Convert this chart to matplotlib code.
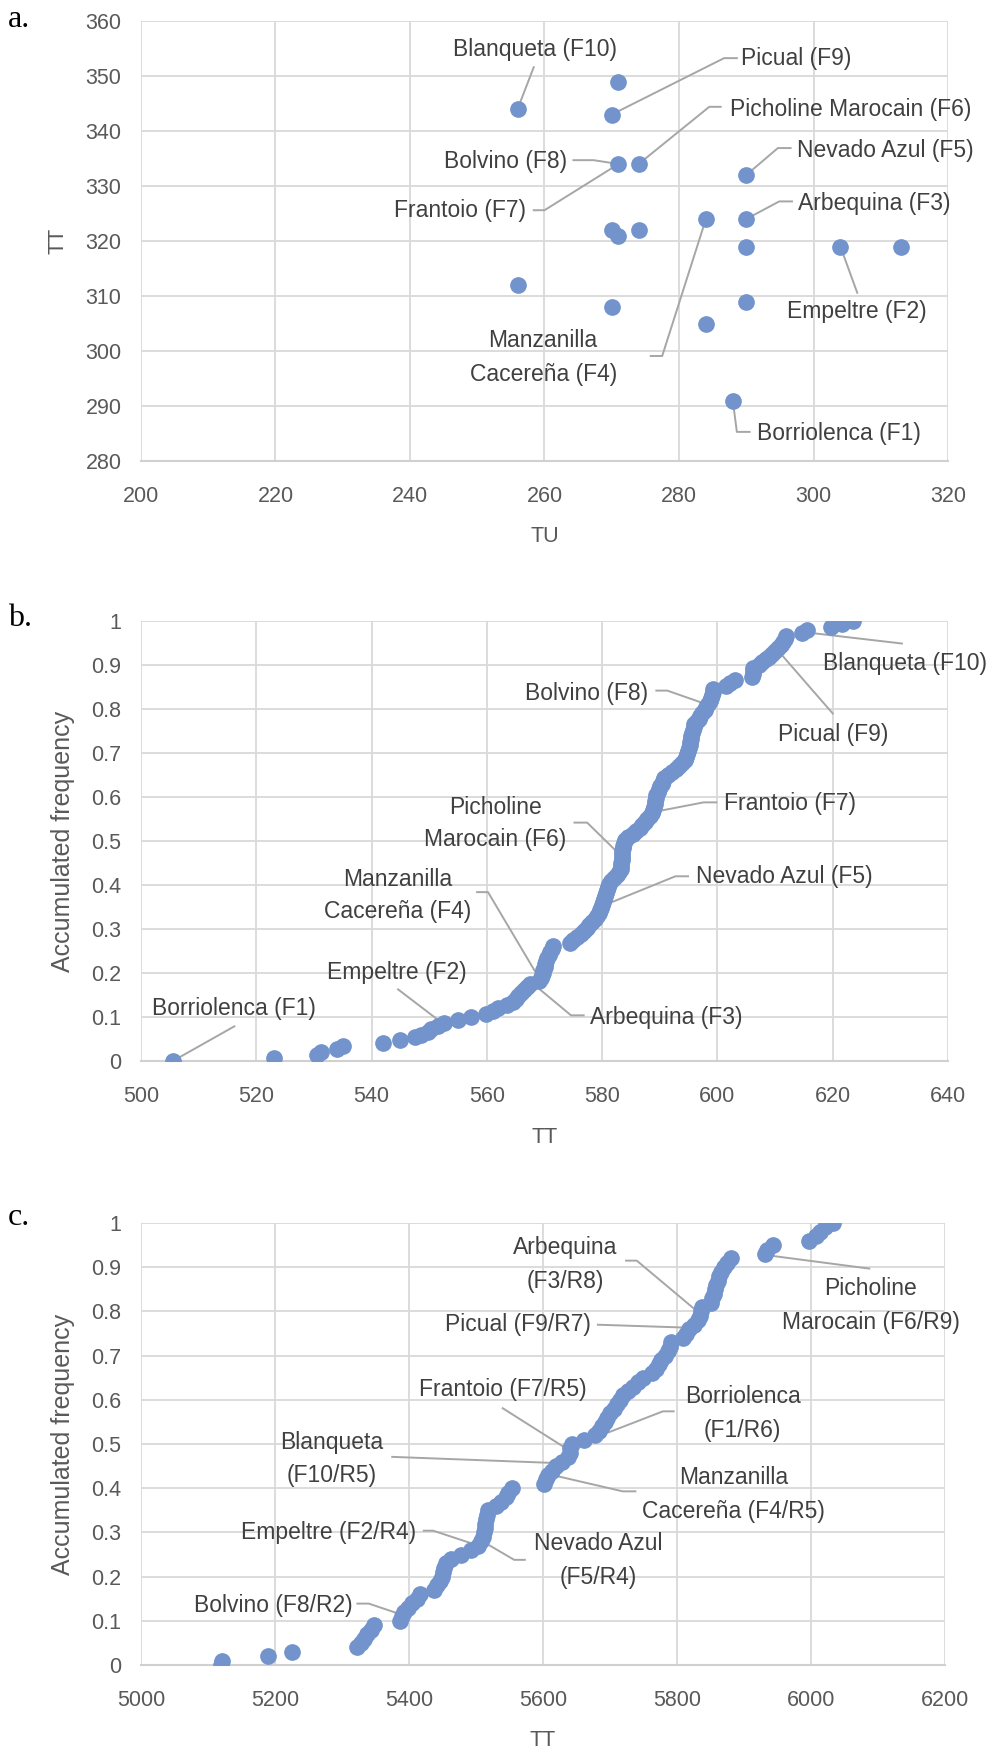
import numpy as np
import matplotlib
matplotlib.use("Agg")
import matplotlib.pyplot as plt

plt.rcParams['font.family'] = ['Liberation Sans', 'DejaVu Sans']

# panel a: TU vs TT per farm
tu_a = [256, 271, 270, 271, 274, 290, 284, 290, 270, 271, 274, 290, 304, 313, 256, 270, 290, 284, 288]
tt_a = [344, 349, 343, 334, 334, 332, 324, 324, 322, 321, 322, 319, 319, 319, 312, 308, 309, 305, 291]

# panel b: sorted TT values (accumulated frequency)
tt_b = [505.5, 523, 530.5, 531.3, 534, 535, 542, 545, 547.5, 548.5,
        549.8, 550.3, 551.5, 552.5, 555, 557.3, 559.8, 561, 562, 563.5,
        564.5, 565, 565.4, 566, 566.5, 567, 567.5, 569, 569.4, 569.6,
        569.7, 569.8, 570, 570.1, 570.3, 570.5, 570.8, 571, 571.3, 571.5,
        574.5, 575, 575.7, 576.3, 576.8, 577.4, 577.8, 578.2, 578.7, 579.1,
        579.4, 579.6, 579.8, 579.9, 580.1, 580.3, 580.5, 580.7, 580.9, 581,
        581.2, 581.5, 582, 582.5, 582.9, 583.2, 583.3, 583.3, 583.4, 583.4,
        583.5, 583.5, 583.6, 583.7, 583.8, 583.9, 584.5, 585.3, 585.8, 586.5,
        587, 587.5, 587.8, 588.3, 588.7, 588.9, 589, 589.1, 589.2, 589.3,
        589.4, 589.7, 589.9, 590.1, 590.3, 590.5, 590.8, 591.5, 592.1, 592.8,
        593.4, 593.9, 594.3, 594.6, 594.8, 594.9, 595, 595.2, 595.3, 595.4,
        595.5, 595.6, 595.8, 595.9, 596, 596.4, 596.8, 597, 597.4, 597.8,
        598.1, 598.4, 598.7, 598.9, 599.1, 599.2, 599.3, 601.5, 602.2, 603,
        606, 606.1, 606.1, 606.2, 607.2, 607.8, 608.4, 608.9, 609.4, 610,
        610.5, 611, 611.4, 611.7, 611.9, 614.6, 615.6, 619.7, 621.6, 623.6]

# panel c: sorted TT values
tt_c = [5120, 5121, 5189, 5226, 5323, 5328, 5333, 5338, 5343, 5348,
        5386, 5390, 5393, 5399, 5405, 5412, 5417, 5438, 5442, 5446,
        5449, 5451, 5453, 5456, 5462, 5478, 5492, 5503, 5507, 5510,
        5512, 5513, 5514, 5515, 5516, 5518, 5530, 5537, 5545, 5548,
        5554, 5601, 5604, 5608, 5613, 5620, 5628, 5638, 5640, 5641,
        5643, 5661, 5677, 5683, 5688, 5692, 5696, 5700, 5706, 5711,
        5715, 5720, 5727, 5735, 5742, 5750, 5762, 5768, 5773, 5776,
        5782, 5786, 5790, 5791, 5809, 5814, 5818, 5826, 5832, 5834,
        5836, 5838, 5851, 5853, 5855, 5857, 5859, 5861, 5863, 5866,
        5870, 5874, 5880, 5931, 5935, 5944, 5997, 6008, 6014, 6021,
        6033]

freq_b = np.arange(len(tt_b)) / (len(tt_b) - 1)
freq_c = np.arange(len(tt_c)) / (len(tt_c) - 1)
freq_ticks = ['0', '0.1', '0.2', '0.3', '0.4', '0.5', '0.6', '0.7', '0.8', '0.9', '1']

# labels: text, text pos, alignment, leader path
labels_a = [
    ("Blanqueta (F10)", 258.6, 354.8, 'center', [(258.4, 351.6), (256, 344)]),
    ("Picual (F9)", 289.2, 353.2, 'left', [(288.6, 353.25), (286.7, 353.25), (270, 343)]),
    ("Picholine Marocain (F6)", 287.6, 344.0, 'left', [(286.2, 344.4), (284.5, 344.4), (274, 334)]),
    ("Nevado Azul (F5)", 297.5, 336.4, 'left', [(296.6, 336.9), (294.7, 336.9), (290, 332)]),
    ("Bolvino (F8)", 263.3, 334.5, 'right', [(264.3, 334.7), (267.3, 334.7), (271, 334)]),
    ("Frantoio (F7)", 257.2, 325.6, 'right', [(258.4, 325.6), (260, 325.6), (271, 334)]),
    ("Arbequina (F3)", 297.7, 326.9, 'left', [(296.8, 327.2), (294.9, 327.2), (290, 324)]),
    ("Empeltre (F2)", 306.5, 307.2, 'center', [(306.5, 310.6), (304, 319)]),
    ("Manzanilla\nCacereña (F4)", 259.8, 298.8, 'center', [(275.8, 299.1), (277.5, 299.1), (284, 324)]),
    ("Borriolenca (F1)", 291.6, 285.0, 'left', [(288, 291), (288.6, 285.3), (290.5, 285.3)]),
]
labels_b = [
    ("Borriolenca (F1)", 516.2, 0.12, 'center', [(516.2, 0.079), (505.5, 0)]),
    ("Empeltre (F2)", 544.4, 0.201, 'center', [(544.6, 0.163), (552.5, 0.084)]),
    ("Manzanilla\nCacereña (F4)", 544.6, 0.377, 'center', [(558.3, 0.384), (560.2, 0.384), (569.4, 0.181)]),
    ("Arbequina (F3)", 577.9, 0.10, 'left', [(576.8, 0.104), (574.6, 0.104), (567.9, 0.177)]),
    ("Picholine\nMarocain (F6)", 561.5, 0.54, 'center', [(575.2, 0.542), (577.4, 0.542), (583.4, 0.465)]),
    ("Nevado Azul (F5)", 596.3, 0.42, 'left', [(594.9, 0.42), (592.7, 0.42), (579, 0.347)]),
    ("Frantoio (F7)", 601.1, 0.586, 'left', [(599.8, 0.588), (597.6, 0.588), (588.9, 0.566)]),
    ("Bolvino (F8)", 588.0, 0.836, 'right', [(589.4, 0.842), (591.3, 0.842), (598.5, 0.809)]),
    ("Picual (F9)", 620.0, 0.742, 'center', [(620, 0.79), (610.9, 0.927)]),
    ("Blanqueta (F10)", 632.6, 0.903, 'center', [(632, 0.949), (615.6, 0.974)]),
]
labels_c = [
    ("Arbequina\n(F3/R8)", 5633, 0.907, 'center', [(5724, 0.915), (5740, 0.915), (5832, 0.798)]),
    ("Picual (F9/R7)", 5672, 0.77, 'right', [(5682, 0.77), (5823, 0.763)]),
    ("Picholine\nMarocain (F6/R9)", 6089, 0.814, 'center', [(6087, 0.897), (5931, 0.928)]),
    ("Frantoio (F7/R5)", 5540, 0.624, 'center', [(5540, 0.581), (5642, 0.483)]),
    ("Borriolenca\n(F1/R6)", 5898, 0.57, 'center', [(5795, 0.574), (5779, 0.574), (5663, 0.506)]),
    ("Blanqueta\n(F10/R5)", 5284, 0.466, 'center', [(5375, 0.471), (5620, 0.457)]),
    ("Manzanilla\nCacereña (F4/R5)", 5884, 0.386, 'center', [(5738, 0.393), (5719, 0.393), (5611, 0.431)]),
    ("Empeltre (F2/R4)", 5410, 0.299, 'right', [(5422, 0.304), (5436, 0.304), (5502, 0.271)]),
    ("Nevado Azul\n(F5/R4)", 5683, 0.236, 'center', [(5573, 0.238), (5557, 0.238), (5512, 0.278)]),
    ("Bolvino (F8/R2)", 5316, 0.135, 'right', [(5323, 0.139), (5340, 0.139), (5385, 0.116)]),
]

DOT = '#7293cb'
TXT = '#404040'
LEAD = '#a6a6a6'
FS_TICK = 15.5
FS_LAB = 16.5


def style(ax, xlim, ylim, xticks, yticks, xlabel, ylabel, ylab_fs):
    ax.set_xlim(*xlim)
    ax.set_ylim(*ylim)
    ax.set_xticks(xticks)
    ax.set_yticks(yticks)
    ax.grid(True, color='#d9d9d9', linewidth=1.3)
    ax.set_axisbelow(True)
    for s in ['top', 'right', 'left']:
        ax.spines[s].set_visible(False)
    ax.spines['bottom'].set_color('#d0d0d0')
    ax.spines['bottom'].set_linewidth(1.5)
    ax.tick_params(length=0, labelsize=FS_TICK, labelcolor='#595959', pad=14)
    ax.tick_params(axis='x', pad=18)
    ax.set_xlabel(xlabel, fontsize=FS_TICK, color='#595959', labelpad=14)
    ax.set_ylabel(ylabel, fontsize=ylab_fs, color='#595959', labelpad=12)


def put_labels(ax, labels, ls):
    for text, x, y, ha, path in labels:
        ax.text(x, y, text, ha=ha, va='center', fontsize=FS_LAB, color=TXT,
                linespacing=ls, multialignment='center')
        px, py = zip(*path)
        ax.plot(px, py, color=LEAD, lw=1.4, clip_on=False, zorder=1)


fig = plt.figure(figsize=(9.9, 17.51), dpi=100)

ax1 = fig.add_axes([0.1424, 0.7367, 0.8152, 0.2513])
ax1.plot(tu_a, tt_a, 'o', color=DOT, ms=11, zorder=3)
style(ax1, (200, 320), (280, 360), range(200, 321, 20), range(280, 361, 10), 'TU', 'TT', FS_TICK)
put_labels(ax1, labels_a, 1.6)

ax2 = fig.add_axes([0.1424, 0.3940, 0.8152, 0.2513])
ax2.plot(tt_b, freq_b, 'o', color=DOT, ms=11, zorder=3)
style(ax2, (500, 640), (0, 1), range(500, 641, 20), np.arange(0, 1.01, 0.1), 'TT', 'Accumulated frequency', 18)
ax2.set_yticklabels(freq_ticks)
put_labels(ax2, labels_b, 1.5)

ax3 = fig.add_axes([0.1424, 0.0491, 0.8121, 0.2524])
ax3.plot(tt_c, freq_c, 'o', color=DOT, ms=11, zorder=3)
style(ax3, (5000, 6200), (0, 1), range(5000, 6201, 200), np.arange(0, 1.01, 0.1), 'TT', 'Accumulated frequency', 18)
ax3.set_yticklabels(freq_ticks)
put_labels(ax3, labels_c, 1.6)

for lab, y in [('a.', 0.997), ('b.', 0.655), ('c.', 0.313)]:
    fig.text(0.008, y, lab, fontsize=23, family='Liberation Serif', va='top', color='black')

fig.savefig('out.png', dpi=100)
